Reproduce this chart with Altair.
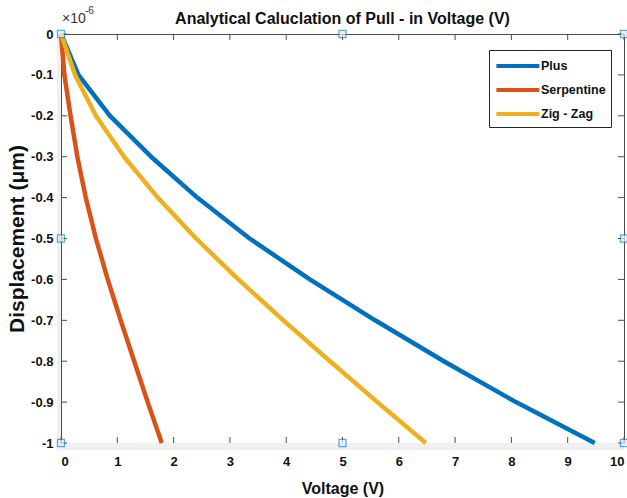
import altair as alt
import pandas as pd

# Displacement samples (units of 1e-6 m, as shown with the x10^-6 axis multiplier)
disp = [0, -0.1, -0.2, -0.3, -0.4, -0.5, -0.6, -0.7, -0.8, -0.9, -1.0]
# Voltage (V) read at each displacement
plus_v = [0, 0.31, 0.87, 1.60, 2.42, 3.35, 4.42, 5.58, 6.80, 8.08, 9.48]
serp_v = [0, 0.06, 0.17, 0.29, 0.44, 0.62, 0.83, 1.06, 1.30, 1.54, 1.79]
zig_v = [0, 0.25, 0.62, 1.12, 1.72, 2.40, 3.15, 3.95, 4.78, 5.62, 6.48]

series_names = ["Plus", "Serpentine", "Zig - Zag"]
series_colors = ["#0072BD", "#D95319", "#EDB120"]

x_ticks = [0, 1, 2, 3, 4, 5, 6, 7, 8, 9, 10]
y_ticks = [0, -0.1, -0.2, -0.3, -0.4, -0.5, -0.6, -0.7, -0.8, -0.9, -1.0]

handle_x = [0, 5, 10, 0, 10, 0, 5, 10]
handle_y = [0, 0, 0, -0.5, -0.5, -1.0, -1.0, -1.0]

title_text = "Analytical Caluclation of Pull - in Voltage (V)"

FONT = "Liberation Sans"
W, H = 563, 409
TICK = 6

rows = []
for name, vs in zip(series_names, [plus_v, serp_v, zig_v]):
    for i, (v, d) in enumerate(zip(vs, disp)):
        rows.append({"series": name, "v": v, "d": d, "i": i})
df = pd.DataFrame(rows)

xs = alt.Scale(domain=[0, 10], nice=False, zero=False)
ys = alt.Scale(domain=[-1, 0], nice=False, zero=False)

x_axis = alt.Axis(values=x_ticks, title="Voltage (V)", ticks=False, labelPadding=12,
                  titlePadding=12, format="d")
y_axis = alt.Axis(values=y_ticks, title="Displacement (μm)", ticks=False, labelPadding=8,
                  titlePadding=3, titleFontSize=21,
                  labelExpr="datum.value === 0 ? '0' : '-' + format(-datum.value, '~g')")

# line swatch for the legend (unit coords scaled by sqrt(size)/2)
swatch = "M-1,0H4"

lines = alt.Chart(df).mark_line(strokeWidth=4.5, strokeJoin="round").encode(
    x=alt.X("v:Q", scale=xs, axis=x_axis),
    y=alt.Y("d:Q", scale=ys, axis=y_axis),
    color=alt.Color("series:N", scale=alt.Scale(domain=series_names, range=series_colors),
                    legend=alt.Legend(title=None, orient="none", legendX=428, legendY=16,
                                      symbolType=swatch, symbolSize=296,
                                      symbolStrokeWidth=4, labelFontSize=12.5,
                                      labelFontWeight="bold", labelFont=FONT,
                                      labelColor="#111111", labelOffset=25,
                                      strokeColor="#262626", fillColor="white",
                                      padding=5, rowPadding=5, cornerRadius=0)),
    order="i:Q",
)

one = alt.Data(values=[{"a": 1}])
band_b = alt.Chart(one).mark_rect(color="#f0f0f0").encode(
    x=alt.value(-4), x2=alt.value(W), y=alt.value(H), y2=alt.value(H + 7))
band_l = alt.Chart(one).mark_rect(color="#f0f0f0").encode(
    x=alt.value(-4), x2=alt.value(0), y=alt.value(0), y2=alt.value(H))

xt = pd.DataFrame({"v": x_ticks})
yt = pd.DataFrame({"d": y_ticks})
tick_style = dict(color="#4d4d4d", strokeWidth=1)
xb = alt.Chart(xt).mark_rule(**tick_style).encode(
    x=alt.X("v:Q", scale=xs, axis=x_axis), y=alt.value(H), y2=alt.value(H - TICK))
xtop = alt.Chart(xt).mark_rule(**tick_style).encode(
    x=alt.X("v:Q", scale=xs, axis=x_axis), y=alt.value(0), y2=alt.value(TICK))
yl = alt.Chart(yt).mark_rule(**tick_style).encode(
    y=alt.Y("d:Q", scale=ys, axis=y_axis), x=alt.value(0), x2=alt.value(TICK))
yr = alt.Chart(yt).mark_rule(**tick_style).encode(
    y=alt.Y("d:Q", scale=ys, axis=y_axis), x=alt.value(W), x2=alt.value(W - TICK))

hd = pd.DataFrame({"v": handle_x, "d": handle_y})
handles = alt.Chart(hd).mark_square(size=50, filled=True, fill="#e4edf6",
                                    stroke="#2f7fc0", strokeWidth=1.3, clip=False).encode(
    x=alt.X("v:Q", scale=xs, axis=x_axis), y=alt.Y("d:Q", scale=ys, axis=y_axis))

mult = alt.Chart(one).mark_text(font=FONT, fontSize=14, align="left",
                                baseline="alphabetic", color="#333333").encode(
    x=alt.value(1), y=alt.value(-11), text=alt.value("×10"))
mult_exp = alt.Chart(one).mark_text(font=FONT, fontSize=10, align="left",
                                    baseline="alphabetic", color="#333333").encode(
    x=alt.value(24), y=alt.value(-20), text=alt.value("-6"))
title = alt.Chart(one).mark_text(font=FONT, fontSize=16, fontWeight="bold", align="center",
                                 baseline="alphabetic", color="#111111").encode(
    x=alt.value(W / 2), y=alt.value(-10), text=alt.value(title_text))

chart = alt.layer(band_b, band_l, xb, xtop, yl, yr, lines, handles, mult, mult_exp,
                  title).properties(
    width=W, height=H,
    autosize=alt.AutoSizeParams(type="none"),
    padding={"left": 61, "top": 34, "right": 3, "bottom": 55},
    background="white",
).configure_view(stroke="#4d4d4d", strokeWidth=1).configure_axis(
    domainColor="#4d4d4d", domainWidth=1, grid=False,
    labelFont=FONT, labelFontWeight="bold", labelFontSize=13, labelColor="#111111",
    titleFont=FONT, titleFontWeight="bold", titleFontSize=16, titleColor="#111111",
)

chart.save("out.html", embed_options={"renderer": "svg", "actions": False})
